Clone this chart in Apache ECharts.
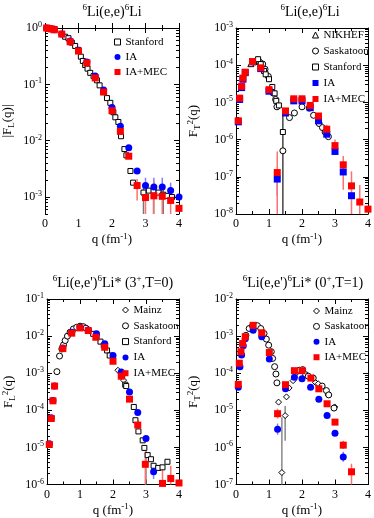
<!DOCTYPE html>
<html>
<head>
<meta charset="utf-8">
<script src="https://cdn.jsdelivr.net/npm/echarts@6/dist/echarts.min.js"></script>
<style>
html, body { margin: 0; padding: 0; background: #fff; }
#chart { width: 374px; height: 518px; }
</style>
</head>
<body>
<div id="chart"></div>
<script>
// ---- data: [q, value] ----
// panel 1: |F_L(q)|  elastic
var stanford1 = [[0.05,1.0],[0.12,0.99],[0.2,0.97],[0.28,0.95],[0.6,0.7],[0.7,0.66],[0.8,0.55],[0.9,0.48],[0.99,0.41],[1.07,0.31],[1.13,0.26],[1.2,0.22],[1.27,0.19],[1.35,0.16],[1.45,0.14],[1.55,0.118],[1.63,0.096],[1.74,0.073],[1.85,0.057],[1.95,0.047],[2.04,0.032],[2.1,0.026],[2.19,0.0215],[2.27,0.012],[2.37,0.0071],[2.43,0.0055],[2.55,0.0029],[2.63,0.0018],[2.94,0.0012],[3.1,0.0013],[3.24,0.0013],[3.39,0.0012],[3.53,0.0011],[3.64,0.00105],[3.79,0.001]];
var ia1 = [[0.05,1.0],[0.12,0.98],[0.2,0.96],[0.28,0.93],[0.5,0.78],[0.75,0.59],[1.0,0.40],[1.25,0.25],[1.5,0.14],[1.75,0.079],[2.0,0.039],[2.25,0.018],[2.5,0.0075],[2.75,0.0029],[3.0,0.0016],[3.25,0.0015],[3.5,0.0015],[3.75,0.0013],[4.0,0.001]];
var mec1 = [[0.05,1.0],[0.12,0.98],[0.2,0.96],[0.28,0.93],[0.5,0.78],[0.75,0.57],[1.0,0.39],[1.25,0.24],[1.5,0.13],[1.75,0.073],[2.0,0.034],[2.25,0.0146],[2.5,0.0053],[2.75,0.0016],[3.0,0.00098],[3.25,0.00105],[3.5,0.00103],[3.75,0.00087],[4.0,0.00063]];
var errStanford1 = [[2.94,0.0004,0.0016],[3.24,0.0004,0.0016],[3.53,0.0004,0.0015]];
var errIa1 = [[3.0,0.001,0.0022],[3.25,0.0009,0.0022],[3.5,0.0009,0.0022],[3.75,0.0008,0.0018]];
var errMec1 = [[2.75,0.00087,0.0021],[3.0,0.0004,0.0017],[3.25,0.0004,0.0019],[3.5,0.0004,0.0017],[3.75,0.0004,0.0013]];

// panel 2: F_T^2(q) elastic
var nikhef2 = [[0.45,1.1e-4],[0.55,1.25e-4],[0.65,1.4e-4]];
var sask2 = [[0.72,1.2e-4],[0.81,1.07e-4],[0.88,7.8e-5],[0.98,5e-5],[1.12,1.8e-5],[1.2,1.2e-5],[1.24,7.6e-6],[1.42,5e-7],[1.62,3.9e-6],[1.77,5.2e-6],[2.0,7.6e-6],[2.22,7e-6],[2.35,4.5e-6],[2.52,2.7e-6],[2.62,2.1e-6],[2.7,1.6e-6],[2.8,1.2e-6]];
var stanford2 = [[0.67,1.45e-4],[0.75,1.07e-4],[0.85,7e-5],[0.9,5.7e-5],[1.0,4.2e-5],[1.1,2.6e-5],[1.17,1.75e-5],[1.22,1.1e-5],[1.3,8.3e-6],[1.42,1.6e-6]];
var ia2 = [[0.07,3.0e-6],[0.11,1.2e-5],[0.17,2.5e-5],[0.21,4.2e-5],[0.28,6.3e-5],[0.5,1.23e-4],[0.75,8.1e-5],[1.0,2.0e-5],[1.25,8.7e-8],[1.5,5.2e-6],[1.75,1.1e-5],[2.0,1.1e-5],[2.25,7.2e-6],[2.5,3.2e-6],[2.75,1.4e-6],[3.0,4.8e-7],[3.25,1.35e-7],[3.5,3.1e-8]];
var mec2 = [[0.07,3.2e-6],[0.11,1.3e-5],[0.17,2.7e-5],[0.21,4.5e-5],[0.28,6.5e-5],[0.5,1.25e-4],[0.75,8.5e-5],[1.0,2.2e-5],[1.25,1.3e-7],[1.5,5.9e-6],[1.75,1.25e-5],[2.0,1.25e-5],[2.25,8.3e-6],[2.5,4.3e-6],[2.75,1.9e-6],[3.0,6.9e-7],[3.25,2.1e-7],[3.5,5.7e-8],[3.75,2.1e-8],[4.0,1.35e-8]];
var errExp2 = [[1.42,5e-9,5e-6]];
var errIa2 = [[1.25,3e-8,1.5e-7]];
var errMec2 = [[1.25,5e-9,4.8e-7],[2.75,1.4e-6,2.5e-6],[3.0,5e-7,1.0e-6],[3.25,4.5e-8,3.6e-7],[3.5,5e-9,1.4e-7],[3.75,5e-9,6e-8]];

// panel 3: F_L^2(q)  3+, T=0
var mainz3 = [[2.15,1.2e-3],[2.32,6.5e-4]];
var sask3 = [[0.3,1.1e-3],[0.38,2.9e-3],[0.45,4.5e-3],[0.5,5.8e-3],[0.55,7.6e-3],[0.62,0.01],[0.7,0.0127],[0.8,0.0156],[0.9,0.0173],[1.0,0.0185],[1.1,0.018],[1.18,0.0163]];
var stanford3 = [[1.25,0.014],[1.4,0.0115],[1.5,0.0095],[1.62,0.0071],[1.72,0.0056],[1.82,0.0041],[1.9,0.003],[2.0,0.0023],[2.28,9e-4],[2.37,4.9e-4],[2.4,4.5e-4],[2.63,1.23e-4],[2.68,5.4e-5],[2.77,2.7e-5],[2.9,1.55e-5],[2.95,9.7e-6],[3.05,6.2e-6],[3.15,4.8e-6],[3.23,3.2e-6],[3.37,2.8e-6],[3.5,2.9e-6],[3.65,4.1e-6]];
var ia3 = [[0.07,1.25e-5],[0.13,6.3e-5],[0.18,1.85e-4],[0.23,4.5e-4],[0.48,4.8e-3],[0.75,0.0127],[1.0,0.017],[1.25,0.0145],[1.5,0.0115],[1.75,0.0062],[2.0,0.003],[2.25,0.00107],[2.5,3.1e-4],[2.75,8.7e-5],[3.0,1.74e-5],[3.23,2.2e-6]];
var mec3 = [[0.07,1.2e-5],[0.13,6e-5],[0.18,1.8e-4],[0.23,4.5e-4],[0.48,4.6e-3],[0.75,0.012],[1.0,0.0166],[1.25,0.0141],[1.48,0.0093],[1.75,0.005],[2.0,0.0021],[2.25,8.3e-4],[2.5,2.0e-4],[2.75,4e-5],[2.98,3.5e-6],[3.5,1.07e-6],[3.75,1.45e-6],[4.0,1.1e-6]];
var errExp3 = [[3.0,5e-7,8e-6]];
var errIa3 = [[3.23,1.4e-6,3.3e-6]];
var errMec3 = [[2.75,2.7e-5,5.5e-5],[2.98,5e-7,7.7e-6],[3.5,5e-7,2.7e-6],[3.75,5e-7,3.2e-6]];

// panel 4: F_T^2(q)  0+, T=1
var mainz4 = [[1.29,1.66e-5],[1.39,2.1e-7],[1.49,7.2e-6],[1.53,2.3e-5],[1.61,4e-5],[1.73,6.3e-5],[1.82,1.0e-4],[2.41,5.6e-5],[2.49,5.2e-5],[2.79,2.6e-5],[2.99,1.23e-5]];
var sask4 = [[0.3,1.05e-3],[0.4,1.6e-3],[0.5,1.9e-3],[0.58,1.95e-3],[0.65,1.9e-3],[0.75,1.6e-3],[0.85,1.17e-3],[0.92,8.3e-4],[0.99,5.7e-4],[1.07,3.8e-4],[1.11,2.5e-4],[1.17,1.5e-4],[1.21,9.5e-5],[1.24,5.5e-5],[1.92,1.2e-4],[2.02,1.25e-4],[2.11,9.1e-5],[2.19,8.3e-5],[2.34,7.4e-5],[2.61,4.5e-5],[2.74,3.4e-5],[2.81,2.6e-5],[2.97,1.15e-5]];
var ia4 = [[0.07,4.2e-5],[0.12,1.5e-4],[0.17,3.1e-4],[0.22,5.5e-4],[0.28,8.5e-4],[0.52,1.44e-3],[0.78,9.6e-4],[1.01,2.4e-4],[1.26,3.1e-6],[1.5,3.8e-5],[1.77,7.8e-5],[2.0,7.1e-5],[2.26,4.2e-5],[2.51,2.0e-5],[2.76,7.2e-6],[3.0,2.4e-6],[3.25,5.5e-7]];
var mec4 = [[0.07,5e-5],[0.1,1.86e-4],[0.15,3.8e-4],[0.2,6.3e-4],[0.28,9.6e-4],[0.52,1.95e-3],[0.78,1.23e-3],[1.01,3.6e-4],[1.26,8.1e-6],[1.5,4.9e-5],[1.77,1.17e-4],[2.0,1.17e-4],[2.27,7.4e-5],[2.51,3.8e-5],[2.76,1.5e-5],[3.0,4.8e-6],[3.25,1.15e-6],[3.5,2.2e-7]];
var errExp4 = [[1.39,5e-8,6.5e-6],[1.49,1.5e-6,1.3e-5]];
var errIa4 = [[1.26,2.2e-6,4.4e-6],[3.25,4.1e-7,7.6e-7]];
var errMec4 = [[1.26,6e-6,1.1e-5],[3.25,9e-7,1.5e-6],[3.5,5e-8,3.6e-7]];

// y ranges (log10) and labelled decades
var yRanges = [[Math.log10(5e-4), 0], [-8, -3], [-6, -1], [-7, -2]];
var yMajors = [[-3, -2, -1, 0], [-8, -7, -6, -5, -4, -3], [-6, -5, -4, -3, -2, -1], [-7, -6, -5, -4, -3, -2]];

var FONT = 'Liberation Serif';
var BLUE = '#0000ff', RED = '#ff0000';

var grids = [
    { left: 45, top: 28, width: 134, height: 186 },
    { left: 236, top: 28, width: 134, height: 186 },
    { left: 45, top: 299, width: 134, height: 187 },
    { left: 236, top: 299, width: 134, height: 187 }
];

var supRich = {
    n: { fontFamily: FONT, fontSize: 13, fontWeight: 'normal', color: '#000', lineHeight: 16 },
    s: { fontFamily: FONT, fontSize: 9, fontWeight: 'normal', color: '#000', verticalAlign: 'top', lineHeight: 16 },
    d: { fontFamily: FONT, fontSize: 9, fontWeight: 'normal', color: '#000', verticalAlign: 'bottom', lineHeight: 16 }
};
var tickRich = {
    b: { fontFamily: FONT, fontSize: 12, color: '#000', lineHeight: 14 },
    s: { fontFamily: FONT, fontSize: 8, color: '#000', verticalAlign: 'top', lineHeight: 14 }
};

function minorsFor(lo, hi) {
    var out = [];
    for (var n = Math.floor(lo); n < Math.ceil(hi); n++) {
        for (var k = 2; k <= 9; k++) {
            var v = n + Math.log10(k);
            if (v >= lo && v <= hi) out.push(v);
        }
    }
    return out;
}

var xAxis = [], yAxis = [];
var yNames = [
    '{n||F}{d|L}{n|(q)|}',
    '{n|F}{d|T}{s|2}{n|(q)}',
    '{n|F}{d|L}{s|2}{n|(q)}',
    '{n|F}{d|T}{s|2}{n|(q)}'
];
var yNameGaps = [29, 34, 30, 34];

for (let g = 0; g < 4; g++) {
    var xBase = {
        gridIndex: g, type: 'value', min: 0, max: 4, interval: 1,
        axisLine: { lineStyle: { color: '#000', width: 1 } },
        axisTick: { inside: true, length: 5, lineStyle: { color: '#000' } },
        minorTick: { show: true, splitNumber: 2, length: 3, lineStyle: { color: '#000' } },
        splitLine: { show: false }
    };
    xAxis.push(Object.assign({}, xBase, {
        position: 'bottom',
        axisLabel: { fontFamily: FONT, fontSize: 12, color: '#000', margin: 4 },
        name: '{n|q (fm}{s|-1}{n|)}', nameLocation: 'middle', nameGap: 18,
        nameTextStyle: { rich: supRich }
    }));
    xAxis.push(Object.assign({}, xBase, { position: 'top', axisLabel: { show: false } }));

    var lo = yRanges[g][0], hi = yRanges[g][1];
    var minors = minorsFor(lo, hi);
    // data axis (log), hidden
    yAxis.push({ gridIndex: g, type: 'log', min: Math.pow(10, lo), max: Math.pow(10, hi), show: false });
    var yBase = {
        gridIndex: g, type: 'value', min: lo, max: hi,
        splitLine: { show: false }
    };
    yAxis.push(Object.assign({}, yBase, {
        position: 'left',
        axisLine: { show: true, lineStyle: { color: '#000' } },
        axisTick: { inside: true, length: 5, customValues: yMajors[g], lineStyle: { color: '#000' } },
        axisLabel: {
            customValues: yMajors[g], margin: 3,
            formatter: function (v) { return '{b|10}{s|' + Math.round(v) + '}'; },
            rich: tickRich
        },
        name: yNames[g], nameLocation: 'middle', nameGap: yNameGaps[g],
        nameTextStyle: { rich: supRich }
    }));
    yAxis.push(Object.assign({}, yBase, {
        position: 'left', axisLine: { show: false },
        axisTick: { inside: true, length: 3, customValues: minors, lineStyle: { color: '#000' } },
        axisLabel: { show: false }
    }));
    yAxis.push(Object.assign({}, yBase, {
        position: 'right',
        axisLine: { show: true, lineStyle: { color: '#000' } },
        axisTick: { inside: true, length: 5, customValues: yMajors[g], lineStyle: { color: '#000' } },
        axisLabel: { show: false }
    }));
    yAxis.push(Object.assign({}, yBase, {
        position: 'right', axisLine: { show: false },
        axisTick: { inside: true, length: 3, customValues: minors, lineStyle: { color: '#000' } },
        axisLabel: { show: false }
    }));
}

function errBars(g, data, color) {
    return {
        type: 'custom', xAxisIndex: g * 2, yAxisIndex: g * 5, data: data, clip: true,
        silent: true, z: 1,
        renderItem: function (params, api) {
            var p1 = api.coord([api.value(0), api.value(1)]);
            var p2 = api.coord([api.value(0), api.value(2)]);
            return {
                type: 'line',
                shape: { x1: p1[0], y1: p1[1], x2: p2[0], y2: p2[1] },
                style: { stroke: color, lineWidth: 1.5 }
            };
        }
    };
}

// open markers: white fill + thin black outline
function openPts(g, name, data, symbol, size) {
    return {
        type: 'scatter', name: name, xAxisIndex: g * 2, yAxisIndex: g * 5,
        data: data, symbol: symbol, symbolSize: size, z: 2,
        itemStyle: { color: '#fff', borderColor: '#000', borderWidth: 1, opacity: 1 }
    };
}
function pts(g, name, data, symbol, color, size, z) {
    return {
        type: 'scatter', name: name, xAxisIndex: g * 2, yAxisIndex: g * 5,
        data: data, symbol: symbol, symbolSize: size, z: z,
        itemStyle: { color: color, opacity: 1 }
    };
}

var series = [
    errBars(0, errStanford1, '#777'), errBars(0, errIa1, '#8080ff'), errBars(0, errMec1, '#ff7070'),
    openPts(0, 'Stanford', stanford1, 'rect', 5),
    pts(0, 'IA', ia1, 'circle', BLUE, 7, 3),
    pts(0, 'IA+MEC', mec1, 'rect', RED, 7, 4),

    errBars(1, errExp2, '#444'), errBars(1, errIa2, '#8080ff'), errBars(1, errMec2, '#ff7070'),
    openPts(1, 'NIKHEF', nikhef2, 'triangle', 6),
    openPts(1, 'Saskatoon', sask2, 'circle', 6),
    openPts(1, 'Stanford', stanford2, 'rect', 5),
    pts(1, 'IA', ia2, 'rect', BLUE, 7, 3),
    pts(1, 'IA+MEC', mec2, 'rect', RED, 7, 4),

    errBars(2, errExp3, '#888'), errBars(2, errIa3, '#8080ff'), errBars(2, errMec3, '#ff7070'),
    openPts(2, 'Mainz', mainz3, 'diamond', 6),
    openPts(2, 'Saskatoon', sask3, 'circle', 6),
    openPts(2, 'Stanford', stanford3, 'rect', 5),
    pts(2, 'IA', ia3, 'circle', BLUE, 7, 3),
    pts(2, 'IA+MEC', mec3, 'rect', RED, 7, 4),

    errBars(3, errExp4, '#888'), errBars(3, errIa4, '#8080ff'), errBars(3, errMec4, '#ff7070'),
    openPts(3, 'Mainz', mainz4, 'diamond', 6),
    openPts(3, 'Saskatoon', sask4, 'circle', 6),
    pts(3, 'IA', ia4, 'circle', BLUE, 7, 3),
    pts(3, 'IA+MEC', mec4, 'rect', RED, 7, 4)
];

function legendAt(left, top, gap, items) {
    return {
        orient: 'vertical', left: left, top: top, itemGap: gap, padding: 0,
        itemWidth: 6, itemHeight: 6, selectedMode: false,
        itemStyle: { borderWidth: 1 },
        textStyle: { fontFamily: FONT, fontSize: 11, color: '#000', lineHeight: 14 },
        data: items.map(function (it) { return { name: it[0], icon: it[1] }; })
    };
}

var legend = [
    legendAt(114, 35, 1, [['Stanford', 'rect'], ['IA', 'circle'], ['IA+MEC', 'rect']]),
    legendAt(312, 28, 2, [['NIKHEF', 'triangle'], ['Saskatoon', 'circle'], ['Stanford', 'rect'], ['IA', 'rect'], ['IA+MEC', 'rect']]),
    legendAt(122, 303, 1.8, [['Mainz', 'diamond'], ['Saskatoon', 'circle'], ['Stanford', 'rect'], ['IA', 'circle'], ['IA+MEC', 'rect']]),
    legendAt(313, 304, 1.4, [['Mainz', 'diamond'], ['Saskatoon', 'circle'], ['IA', 'circle'], ['IA+MEC', 'rect']])
];

var titleRich = {
    n: { fontFamily: FONT, fontSize: 14, fontWeight: 'normal', color: '#000', lineHeight: 18 },
    s: { fontFamily: FONT, fontSize: 9, fontWeight: 'normal', color: '#000', verticalAlign: 'top', lineHeight: 18 }
};
function titleAt(x, y, text) {
    return { text: text, left: x, top: y, textAlign: 'center', padding: 0,
        textStyle: { fontWeight: 'normal', rich: titleRich } };
}
var title = [
    titleAt(112, 3, '{s|6}{n|Li(e,e)}{s|6}{n|Li}'),
    titleAt(310, 3, '{s|6}{n|Li(e,e)}{s|6}{n|Li}'),
    titleAt(113, 274, "{s|6}{n|Li(e,e')}{s|6}{n|Li* (3}{s|+}{n|,T=0)}"),
    titleAt(303, 274, "{s|6}{n|Li(e,e')}{s|6}{n|Li* (0}{s|+}{n|,T=1)}")
];

var chart = echarts.init(document.getElementById('chart'), null, { renderer: 'canvas' });
chart.setOption({
    backgroundColor: '#fff',
    animation: false,
    title: title,
    legend: legend,
    grid: grids,
    xAxis: xAxis,
    yAxis: yAxis,
    series: series
});
</script>
</body>
</html>
